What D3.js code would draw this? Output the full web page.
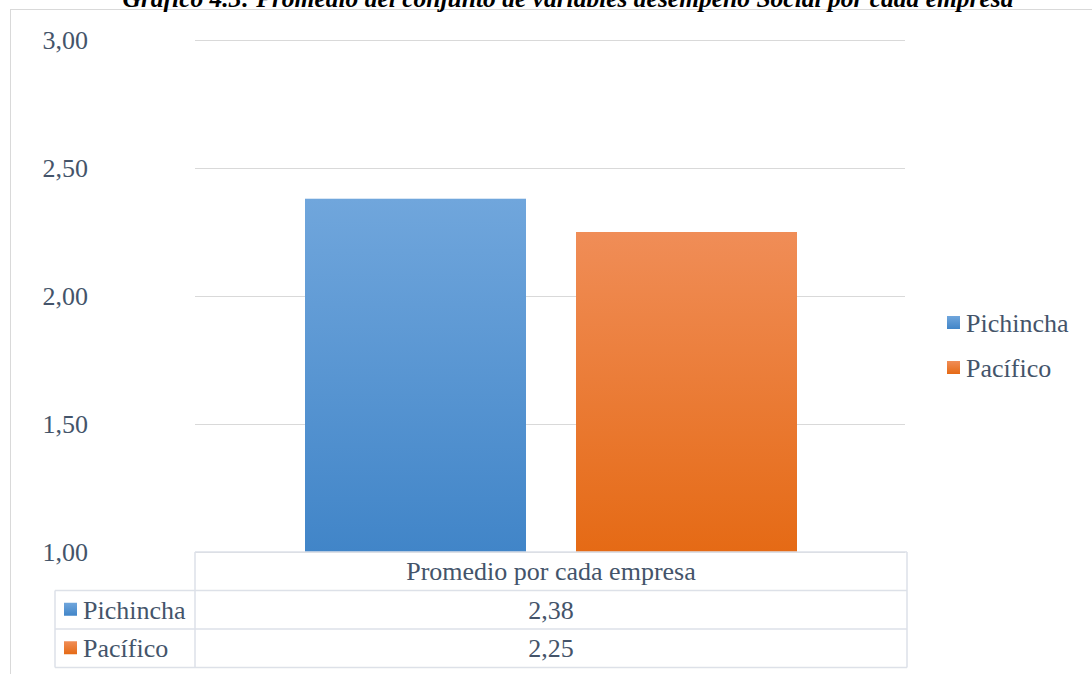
<!DOCTYPE html>
<html>
<head>
<meta charset="utf-8">
<script src="https://cdn.jsdelivr.net/npm/d3@7"></script>
<style>
  html, body { margin: 0; padding: 0; background: #fff; }
  svg { display: block; }
  text { font-family: "Liberation Serif", "Times New Roman", serif; }
</style>
</head>
<body>
<svg id="chart" width="1092" height="674"></svg>
<script>
const titleText = 'Gráfico 4.3: Promedio del conjunto de variables desempeño Social por cada empresa';
const category = 'Promedio por cada empresa';
const seriesNames = ['Pichincha', 'Pacífico'];
const seriesValues = [2.38, 2.25];
const yTicks = [1.0, 1.5, 2.0, 2.5, 3.0];

const svg = d3.select('#chart');
const textColor = '#44546a';
const fontSize = 26;
const fmt = v => d3.format('.2f')(v).replace('.', ',');

// gradients for bars and legend keys
const defs = svg.append('defs');
const gradStops = [
    ['#70a6dc', '#4185c8'],
    ['#f08d57', '#e56a15']
];
gradStops.forEach((s, i) => {
    const g = defs.append('linearGradient').attr('id', 'grad' + i)
        .attr('x1', 0).attr('y1', 0).attr('x2', 0).attr('y2', 1);
    g.append('stop').attr('offset', '0%').attr('stop-color', s[0]);
    g.append('stop').attr('offset', '100%').attr('stop-color', s[1]);
});

// outer chart frame (cut by the window)
svg.append('rect')
    .attr('x', 10.5).attr('y', 9.5).attr('width', 1100).attr('height', 700)
    .attr('fill', 'none').attr('stroke', '#d9d9d9');

// title, partly cut at the top as in the source
svg.append('text')
    .attr('x', 568).attr('y', 7)
    .attr('text-anchor', 'middle')
    .attr('font-size', 25.5).attr('font-weight', 'bold').attr('font-style', 'italic')
    .attr('fill', '#000')
    .text(titleText);

const plotLeft = 195, plotRight = 907;
const y = d3.scaleLinear().domain([1, 3]).range([552, 40]);
const x0 = d3.scaleBand().domain([category]).range([plotLeft, plotRight]);
const x1 = d3.scaleBand().domain(seriesNames)
    .range([x0(category) + 110, x0(category) + x0.bandwidth() - 110])
    .paddingInner(0.1845);

// gridlines and y labels
const yAxis = d3.axisLeft(y).tickValues(yTicks).tickFormat(fmt)
    .tickSize(-(plotRight - plotLeft - 2)).tickPadding(107);
const yg = svg.append('g').attr('transform', `translate(${plotLeft},0)`).call(yAxis);
yg.select('.domain').remove();
yg.selectAll('.tick line').attr('stroke', '#d9d9d9');
yg.selectAll('.tick text').attr('fill', textColor).attr('font-size', fontSize)
    .attr('font-family', '"Liberation Serif", serif');

// bars
svg.append('g').selectAll('rect')
    .data(seriesNames.map((n, i) => ({ name: n, value: seriesValues[i], i })))
    .join('rect')
    .attr('x', d => x1(d.name))
    .attr('y', d => y(d.value))
    .attr('width', x1.bandwidth())
    .attr('height', d => y(1) - y(d.value))
    .attr('fill', d => `url(#grad${d.i})`);

// data table
const rowH = 38.5;
const tableTop = y(1);
const tableLeft = 55;
const tbl = svg.append('g');
const lineColor = '#dde1e8';
const hLine = (xa, xb, yy) => tbl.append('line')
    .attr('x1', xa).attr('x2', xb).attr('y1', yy).attr('y2', yy)
    .attr('stroke', lineColor).attr('stroke-width', 1.5);
const vLine = (xx, ya, yb) => tbl.append('line')
    .attr('x1', xx).attr('x2', xx).attr('y1', ya).attr('y2', yb)
    .attr('stroke', lineColor).attr('stroke-width', 1.5);

hLine(plotLeft, plotRight, tableTop);
hLine(tableLeft, plotRight, tableTop + rowH);
hLine(tableLeft, plotRight, tableTop + rowH * 2);
hLine(tableLeft, plotRight, tableTop + rowH * 3);
vLine(plotLeft, tableTop, tableTop + rowH * 3);
vLine(plotRight, tableTop, tableTop + rowH * 3);
vLine(tableLeft, tableTop + rowH, tableTop + rowH * 3);

const midX = x0(category) + x0.bandwidth() / 2;
tbl.append('text')
    .attr('x', midX).attr('y', tableTop + rowH / 2 + 9)
    .attr('text-anchor', 'middle').attr('font-size', fontSize).attr('fill', textColor)
    .text(category);

seriesNames.forEach((n, i) => {
    const ry = tableTop + rowH * (i + 1);
    tbl.append('rect').attr('x', 64).attr('y', ry + rowH / 2 - 7)
        .attr('width', 13).attr('height', 13).attr('fill', `url(#grad${i})`);
    tbl.append('text').attr('x', 83).attr('y', ry + rowH / 2 + 9)
        .attr('font-size', fontSize).attr('fill', textColor).text(n);
    tbl.append('text')
        .attr('x', midX).attr('y', ry + rowH / 2 + 9)
        .attr('text-anchor', 'middle').attr('font-size', fontSize).attr('fill', textColor)
        .text(fmt(seriesValues[i]));
});

// legend
const legend = svg.append('g');
seriesNames.forEach((n, i) => {
    const ly = 323 + i * 45;
    legend.append('rect').attr('x', 947).attr('y', ly - 7)
        .attr('width', 13).attr('height', 13).attr('fill', `url(#grad${i})`);
    legend.append('text').attr('x', 966).attr('y', ly + 9)
        .attr('font-size', fontSize).attr('fill', textColor).text(n);
});
</script>
</body>
</html>
